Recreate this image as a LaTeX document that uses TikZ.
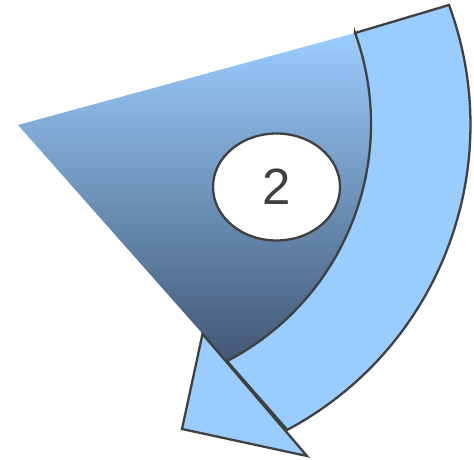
\documentclass[tikz,border=0pt]{standalone}
\usepackage{fontspec}
\setmainfont{Liberation Sans}
\usetikzlibrary{shapes.geometric}
\definecolor{arrowblue}{RGB}{153,204,255}
\definecolor{gradtop}{RGB}{154,205,255}
\definecolor{gradmid}{RGB}{126,164,208}
\definecolor{gradbot}{RGB}{66,87,116}
\definecolor{strokegray}{RGB}{64,64,64}
\tikzset{
  outline/.style={draw=strokegray, line width=2.3pt, line join=miter},
  arrowpart/.style={outline, fill=arrowblue},
  sector/.style={top color=gradtop, middle color=gradmid, bottom color=gradbot, draw=none},
  badge/.style={ellipse, outline, fill=white, minimum width=127pt, minimum height=107pt, inner sep=0pt, text=strokegray, font=\fontsize{51}{51}\selectfont}
}
\begin{document}
\begin{tikzpicture}[x=1pt,y=1pt]
\useasboundingbox (0,0) rectangle (474,-460);
% key points
\coordinate (apex) at (18,-125);
\coordinate (innertop) at (355,-33);
\coordinate (outertop) at (449,-5);
\coordinate (innerend) at (227,-361.1);
\coordinate (outerend) at (287,-430);
\coordinate (headbase) at (202.5,-334);
\coordinate (headtip) at (182,-429);
\coordinate (headcorner) at (307,-456);
% gradient sector
\path[sector] (apex) -- (innertop) arc[start angle=19.9, end angle=-62.5, radius=267.5] -- cycle;
% curved arrow shaft
\path[arrowpart] (innertop) -- (outertop) arc[start angle=20.28, end angle=-61.97, radius=345.6] -- (innerend) arc[start angle=-62.5, end angle=19.9, radius=267.5] -- cycle;
% arrow head
\path[arrowpart] (headbase) -- (headtip) -- (headcorner) -- cycle;
% label
\node[badge] (label) at (276.5,-187) {2};
\end{tikzpicture}
\end{document}
